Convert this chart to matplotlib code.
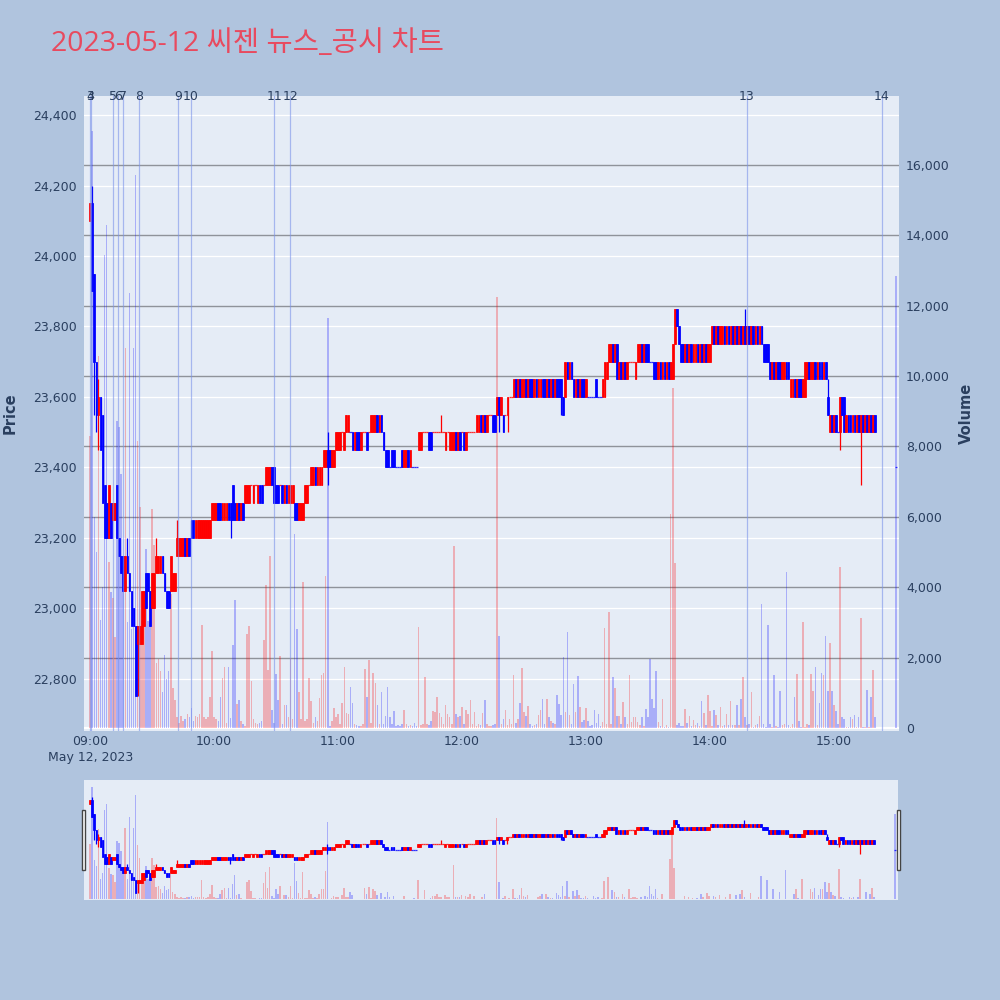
import matplotlib
matplotlib.use('Agg')
import matplotlib.pyplot as plt
import matplotlib.transforms as mtransforms
from matplotlib.patches import Rectangle
import numpy as np

# ---------------- data ----------------
title = '2023-05-12 씨젠 뉴스_공시 차트'
session_start = '09:00'

opens = [
    24100, 24150, 23950, 23700, 23550, 23600, 23550, 23350, 23300, 23200,
    23300, 23250, 23250, 23350, 23200, 23150, 23150, 23050, 23150, 23100,
    23050, 23000, 22950, 22900, 22900, 22900, 22950, 23100, 23100, 23050,
    23000, 23000, 23100, 23100, 23100, 23150, 23100, 23050, 23050, 23050,
    23050, 23050, 23150, 23150, 23150, 23150, 23200, 23150, 23200, 23250,
    23250, 23200, 23200, 23200, 23200, 23200, 23200, 23200, 23200, 23250,
    23250, 23250, 23300, 23300, 23250, 23250, 23250, 23300, 23300, 23350,
    23300, 23250, 23300, 23250, 23300, 23300, 23300, 23300, 23350, 23300,
    23350, 23300, 23350, 23350, 23350, 23350, 23350, 23350, 23400, 23400,
    23350, 23350, 23350, 23350, 23300, 23350, 23300, 23300, 23300, 23300,
    23300, 23250, 23250, 23250, 23300, 23300, 23350, 23350, 23350, 23400,
    23350, 23350, 23350, 23400, 23400, 23450, 23450, 23400, 23400, 23450,
    23450, 23450, 23500, 23450, 23500, 23500, 23500, 23500, 23450, 23500,
    23500, 23450, 23500, 23500, 23500, 23500, 23500, 23500, 23500, 23550,
    23500, 23550, 23500, 23450, 23450, 23400, 23450, 23450, 23400, 23400,
    23400, 23450, 23400, 23400, 23450, 23400, 23400, 23400, 23400, 23450,
    23450, 23500, 23500, 23500, 23500, 23500, 23500, 23500, 23500, 23500,
    23500, 23500, 23450, 23500, 23450, 23450, 23450, 23500, 23450, 23500,
    23500, 23500, 23450, 23500, 23500, 23500, 23500, 23500, 23500, 23550,
    23500, 23550, 23500, 23550, 23550, 23550, 23550, 23550, 23600, 23550,
    23550, 23550, 23550, 23600, 23600, 23600, 23650, 23600, 23650, 23600,
    23600, 23650, 23600, 23650, 23650, 23600, 23650, 23600, 23600, 23650,
    23650, 23600, 23650, 23600, 23650, 23600, 23650, 23650, 23650, 23600,
    23600, 23700, 23650, 23700, 23650, 23600, 23650, 23600, 23650, 23650,
    23600, 23600, 23600, 23600, 23600, 23650, 23600, 23600, 23600, 23600,
    23650, 23700, 23700, 23750, 23700, 23750, 23650, 23700, 23650, 23700,
    23650, 23700, 23700, 23700, 23650, 23700, 23700, 23750, 23700, 23750,
    23750, 23700, 23700, 23700, 23700, 23650, 23700, 23650, 23700, 23650,
    23700, 23650, 23650, 23750, 23850, 23800, 23750, 23750, 23700, 23750,
    23700, 23750, 23700, 23700, 23750, 23700, 23750, 23700, 23750, 23700,
    23700, 23750, 23800, 23750, 23800, 23750, 23750, 23800, 23750, 23800,
    23750, 23800, 23750, 23800, 23750, 23800, 23750, 23800, 23750, 23800,
    23750, 23800, 23750, 23800, 23750, 23800, 23750, 23750, 23750, 23700,
    23650, 23700, 23650, 23700, 23700, 23650, 23650, 23700, 23700, 23600,
    23600, 23650, 23600, 23650, 23650, 23600, 23600, 23650, 23700, 23650,
    23650, 23700, 23650, 23700, 23700, 23650, 23700, 23600, 23500, 23550,
    23500, 23550, 23500, 23500, 23600, 23600, 23500, 23550, 23550, 23500,
    23550, 23500, 23550, 23500, 23550, 23500, 23550, 23500, 23550, 23500,
    23550,
]

closes = [
    24150, 23900, 23700, 23550, 23600, 23450, 23300, 23200, 23200, 23350,
    23200, 23300, 23300, 23200, 23150, 23100, 23050, 23150, 23100, 23050,
    22950, 22950, 22750, 22950, 22950, 23050, 23050, 23000, 23050, 22950,
    23100, 23100, 23150, 23150, 23150, 23100, 23050, 23000, 23000, 23150,
    23100, 23100, 23200, 23200, 23200, 23200, 23150, 23200, 23150, 23200,
    23200, 23250, 23250, 23250, 23250, 23250, 23250, 23250, 23250, 23300,
    23300, 23300, 23250, 23250, 23300, 23300, 23300, 23250, 23250, 23250,
    23250, 23300, 23250, 23300, 23250, 23350, 23350, 23350, 23350, 23350,
    23350, 23350, 23300, 23300, 23350, 23400, 23400, 23400, 23350, 23300,
    23300, 23300, 23350, 23300, 23350, 23300, 23350, 23350, 23350, 23250,
    23250, 23300, 23300, 23300, 23350, 23350, 23350, 23400, 23400, 23350,
    23400, 23400, 23400, 23450, 23450, 23400, 23400, 23450, 23450, 23500,
    23500, 23500, 23500, 23500, 23550, 23550, 23500, 23450, 23500, 23450,
    23450, 23500, 23500, 23500, 23450, 23500, 23550, 23550, 23550, 23500,
    23550, 23500, 23450, 23400, 23400, 23400, 23400, 23400, 23400, 23400,
    23400, 23400, 23450, 23450, 23400, 23450, 23400, 23400, 23400, 23500,
    23500, 23500, 23500, 23500, 23450, 23450, 23500, 23500, 23500, 23500,
    23500, 23500, 23500, 23500, 23500, 23500, 23500, 23450, 23500, 23450,
    23500, 23450, 23500, 23500, 23500, 23500, 23500, 23550, 23550, 23500,
    23550, 23500, 23550, 23550, 23550, 23500, 23500, 23600, 23550, 23600,
    23500, 23550, 23600, 23600, 23600, 23650, 23600, 23650, 23600, 23650,
    23650, 23600, 23650, 23600, 23600, 23650, 23600, 23650, 23650, 23600,
    23600, 23650, 23600, 23650, 23600, 23650, 23600, 23600, 23600, 23550,
    23700, 23650, 23700, 23650, 23600, 23650, 23600, 23650, 23600, 23600,
    23650, 23600, 23600, 23600, 23600, 23600, 23600, 23600, 23650, 23700,
    23700, 23750, 23750, 23700, 23750, 23650, 23700, 23650, 23700, 23650,
    23700, 23700, 23700, 23700, 23700, 23750, 23750, 23700, 23750, 23700,
    23700, 23700, 23700, 23650, 23650, 23700, 23650, 23700, 23650, 23700,
    23650, 23700, 23750, 23850, 23800, 23750, 23700, 23700, 23750, 23700,
    23750, 23700, 23750, 23750, 23700, 23750, 23700, 23750, 23700, 23750,
    23750, 23800, 23750, 23800, 23750, 23800, 23800, 23750, 23800, 23750,
    23800, 23750, 23800, 23750, 23800, 23750, 23800, 23750, 23800, 23750,
    23800, 23750, 23800, 23750, 23800, 23750, 23700, 23700, 23700, 23650,
    23700, 23650, 23700, 23650, 23650, 23700, 23700, 23650, 23650, 23650,
    23650, 23600, 23650, 23600, 23600, 23650, 23700, 23700, 23650, 23700,
    23700, 23650, 23700, 23650, 23650, 23700, 23650, 23550, 23550, 23500,
    23550, 23500, 23500, 23600, 23550, 23500, 23550, 23500, 23500, 23550,
    23500, 23550, 23500, 23550, 23500, 23550, 23500, 23550, 23500, 23550,
    23500,
]

# wick extremes that reach beyond the candle body (minute index -> price)
high_wicks = {1: 24200, 4: 23650, 18: 23200, 32: 23200, 42: 23250, 115: 23500,
              170: 23550, 317: 23850, 357: 23650}
low_wicks = {2: 23550, 3: 23500, 4: 23450, 23: 22750, 68: 23200, 115: 23350,
             198: 23500, 202: 23500, 228: 23550, 363: 23450, 373: 23350}

volumes = [
    8300, 16970, 6000, 5000, 10570, 3070, 4000, 13450, 14290, 4730,
    3860, 3690, 2590, 8720, 8550, 7220, 4000, 10800, 3000, 12360,
    2820, 10800, 15710, 8140, 6290, 3050, 3230, 5090, 3050, 3000,
    6230, 5200, 1850, 1960, 1620, 1030, 2070, 1390, 1620, 3800,
    1150, 800, 300, 150, 350, 200, 250, 400, 300, 570,
    200, 350, 300, 400, 2930, 300, 250, 300, 880, 2200,
    300, 250, 200, 880, 1420, 1730, 150, 1730, 280, 2360,
    3640, 680, 800, 200, 100, 50, 2680, 2900, 1340, 260,
    150, 100, 150, 200, 2500, 4060, 1650, 4900, 500, 150,
    1530, 800, 2050, 100, 650, 650, 300, 1990, 270, 5500,
    2800, 1020, 250, 4150, 200, 250, 1420, 770, 150, 300,
    200, 860, 1500, 1570, 4320, 11650, 50, 200, 560, 300,
    400, 100, 700, 1730, 420, 400, 1160, 700, 100, 80,
    50, 60, 100, 1680, 870, 1930, 150, 1570, 1280, 650,
    100, 1020, 100, 350, 1160, 300, 100, 480, 50, 80,
    60, 100, 520, 100, 50, 80, 60, 150, 50, 2870,
    80, 100, 1450, 100, 80, 200, 480, 460, 880, 420,
    300, 100, 650, 400, 300, 100, 5170, 400, 300, 350,
    600, 100, 500, 400, 800, 100, 450, 50, 100, 80,
    420, 800, 100, 50, 60, 80, 100, 12250, 2620, 100,
    250, 500, 80, 250, 100, 1500, 150, 250, 700, 1700,
    450, 330, 630, 100, 60, 80, 100, 380, 520, 830,
    100, 830, 300, 200, 150, 100, 940, 680, 380, 2020,
    450, 2720, 360, 100, 1250, 450, 1480, 610, 170, 230,
    560, 200, 60, 80, 510, 150, 400, 50, 170, 2840,
    100, 3300, 100, 1450, 1140, 330, 330, 100, 750, 300,
    100, 1500, 170, 300, 300, 170, 80, 300, 50, 540,
    300, 1950, 830, 570, 1620, 170, 50, 830, 30, 80,
    30, 6080, 9660, 4690, 80, 130, 50, 50, 540, 130,
    330, 50, 220, 80, 150, 50, 770, 430, 80, 940,
    480, 50, 520, 370, 80, 600, 50, 80, 400, 80,
    760, 80, 80, 640, 80, 830, 1450, 300, 80, 120,
    1020, 30, 80, 100, 350, 3520, 100, 30, 2920, 120,
    30, 1500, 50, 30, 1050, 80, 100, 4430, 80, 30,
    100, 880, 1530, 210, 30, 3010, 30, 120, 80, 1530,
    1050, 1730, 80, 710, 1570, 1500, 2620, 1050, 2420, 1050,
    660, 480, 100, 4570, 300, 260, 30, 30, 310, 260,
    380, 30, 310, 3120, 30, 30, 1080, 30, 880, 1650,
    300,
]

# closing single-price auction
closing_time = '15:30'
closing_price = 23400
closing_volume = 12840

news_labels = ['3', '4', '5', '6', '7', '8', '9', '10', '11', '12', '13', '14']
news_times = ['08:59:45', '09:00:15', '09:11:00', '09:13:25', '09:15:50', '09:23:35',
              '09:42:25', '09:48:40', '10:29:10', '10:36:55', '14:17:55', '15:23:10']

time_ticks = ['09:00', '10:00', '11:00', '12:00', '13:00', '14:00', '15:00']
date_label = 'May 12, 2023'
price_ticks = [22800, 23000, 23200, 23400, 23600, 23800, 24000, 24200, 24400]
volume_ticks = [0, 2000, 4000, 6000, 8000, 10000, 12000, 14000, 16000]

# ---------------- helpers ----------------
def to_min(s):
    parts = [int(p) for p in s.split(':')]
    h, m = parts[0], parts[1]
    sec = parts[2] if len(parts) > 2 else 0
    h0, m0 = [int(p) for p in session_start.split(':')]
    return (h - h0) * 60 + (m - m0) + sec / 60.0

n = min(len(opens), len(closes), len(volumes))
t = list(range(n)) + [to_min(closing_time)]
o = list(opens[:n]) + [closing_price]
c = list(closes[:n]) + [closing_price]
v = list(volumes[:n]) + [closing_volume]
hi = [max(o[i], c[i], high_wicks.get(i, 0)) for i in range(len(o))]
lo = [min(o[i], c[i], low_wicks.get(i, 10 ** 9)) for i in range(len(o))]

t = np.array(t, float); o = np.array(o, float); c = np.array(c, float)
v = np.array(v, float); hi = np.array(hi, float); lo = np.array(lo, float)

RED = '#ff0000'
BLUE = '#0000ff'
up = []
prev_c, prev_up = None, False
for oi, ci in zip(o, c):
    if ci > oi:
        u = True
    elif ci < oi:
        u = False
    else:
        u = (ci > prev_c) if (prev_c is not None and ci != prev_c) else prev_up
    up.append(u)
    prev_c, prev_up = ci, u
up = np.array(up)
cols = np.where(up, RED, BLUE)

XLIM = (-3, 391.5)
PLIM = (22652, 24454)
VLIM = (-85, 17955)

BG = '#b0c4de'
PLOT_BG = '#e5ecf6'
TXT = '#2a3f5f'

def draw_candles(ax):
    ax.vlines(t, lo, hi, colors=cols, linewidth=0.9, zorder=3)
    body = np.abs(c - o)
    bottom = np.minimum(o, c)
    nz = body > 0
    ax.bar(t[nz], body[nz], bottom=bottom[nz], width=0.85, color=cols[nz],
           edgecolor=cols[nz], linewidth=0.55, zorder=3)
    z = ~nz
    ax.hlines(c[z], t[z] - 0.5, t[z] + 0.5, colors=cols[z], linewidth=0.9,
              alpha=0.8, zorder=3)

def draw_volume(ax):
    ax.bar(t, v, width=0.75, color=cols, alpha=0.26, linewidth=0, zorder=2)

def strip(ax):
    for s in ax.spines.values():
        s.set_visible(False)

# ---------------- figure ----------------
fig = plt.figure(figsize=(10, 10), dpi=100, facecolor=BG)

rect = [0.084, 0.269, 0.815, 0.635]
ax_v = fig.add_axes(rect)
ax_p = fig.add_axes(rect, sharex=ax_v)
ax_v.set_facecolor(PLOT_BG)
ax_p.patch.set_visible(False)
strip(ax_v); strip(ax_p)

ax_v.set_xlim(*XLIM)
ax_v.set_ylim(*VLIM)
ax_p.set_ylim(*PLIM)

# grid lines (all below the traces)
for vt in volume_ticks:
    if vt == 0:
        ax_v.axhline(vt, color='white', linewidth=1.6, zorder=1)
    else:
        ax_v.axhline(vt, color='#8f939a', linewidth=1.0, zorder=0.8)
blend_p = mtransforms.blended_transform_factory(ax_v.transAxes, ax_p.transData)
for pt in price_ticks:
    ax_v.plot([0, 1], [pt, pt], transform=blend_p, color='white', linewidth=0.9, zorder=0.7)

draw_volume(ax_v)
draw_candles(ax_p)

# news lines
blend_x = mtransforms.blended_transform_factory(ax_p.transData, ax_p.transAxes)
for lab, tn in zip(news_labels, news_times):
    xm = to_min(tn)
    ax_p.axvline(xm, color='#7b93ea', alpha=0.6, linewidth=0.9, zorder=5)
    ax_p.text(xm, 1.0, lab, transform=blend_x, ha='center', va='center', fontsize=9,
              color=TXT, clip_on=False, zorder=6)

# ticks
ax_p.set_yticks(price_ticks)
ax_p.set_yticklabels([f'{p:,}' for p in price_ticks])
ax_p.tick_params(axis='y', length=0, pad=5, labelsize=9, labelcolor=TXT)
ax_v.yaxis.tick_right()
ax_v.set_yticks(volume_ticks)
ax_v.set_yticklabels([f'{x:,}' for x in volume_ticks])
ax_v.tick_params(axis='y', length=0, pad=5, labelsize=9, labelcolor=TXT)
tick_pos = [to_min(s) for s in time_ticks]
ax_p.set_xticks(tick_pos)
ax_p.set_xticklabels(time_ticks)
ax_p.tick_params(axis='x', length=0, pad=3, labelsize=9, labelcolor=TXT)
ax_v.tick_params(axis='x', length=0, labelbottom=False)
ax_p.set_xlim(*XLIM)

blend_date = mtransforms.blended_transform_factory(ax_p.transData, fig.transFigure)
fig.text(tick_pos[0], 0.243, date_label, transform=blend_date, ha='center', va='center',
         fontsize=9, color=TXT)

fig.text(0.010, 0.587, 'Price', rotation=90, ha='center', va='center', fontsize=10.5,
         fontweight='bold', color=TXT)
fig.text(0.966, 0.587, 'Volume', rotation=90, ha='center', va='center', fontsize=10.5,
         fontweight='bold', color=TXT)

fig.text(0.051, 0.949, title, ha='left', va='baseline', fontsize=20.5, color='#e84a5f',
         family=['Open Sans', 'Noto Sans CJK KR', 'DejaVu Sans'])

# ---------------- range slider ----------------
srect = [0.084, 0.100, 0.814, 0.120]
s_v = fig.add_axes(srect)
s_p = fig.add_axes(srect, sharex=s_v)
s_v.set_facecolor(PLOT_BG)
s_p.patch.set_visible(False)
strip(s_v); strip(s_p)
s_v.set_xlim(*XLIM); s_v.set_ylim(*VLIM); s_p.set_ylim(*PLIM)
draw_volume(s_v)
draw_candles(s_p)
s_p.set_xlim(*XLIM)
for a in (s_v, s_p):
    a.set_xticks([]); a.set_yticks([])

for hx in (0.0817, 0.8965):
    fig.patches.append(Rectangle((hx, 0.130), 0.0035, 0.060, transform=fig.transFigure,
                                 facecolor='white', edgecolor='#444444', linewidth=1.0))

fig.savefig('out.png', dpi=100, facecolor=BG)
